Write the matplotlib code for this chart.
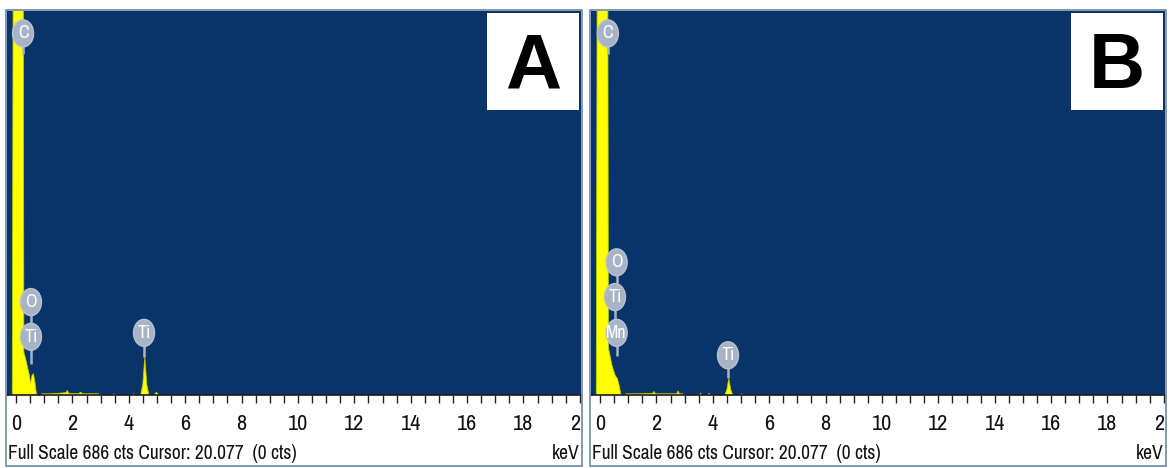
import matplotlib
matplotlib.use('Agg')
import matplotlib.pyplot as plt
from matplotlib import font_manager
from matplotlib.patches import Ellipse, Rectangle
from matplotlib.ticker import MultipleLocator

# Espectros EDS (energía en keV, cuentas)
energia_a = [-0.15, -0.12, 0.24, 0.26, 0.30, 0.35, 0.40, 0.45, 0.50, 0.55, 0.60, 0.65, 0.70, 0.75,
             0.85, 0.90, 1.2, 1.5, 1.75, 1.80, 1.85, 2.2, 2.27, 2.34, 2.6, 2.9, 3.0,
             3.40, 3.45, 3.50, 4.10, 4.15, 4.20, 4.40, 4.48, 4.55, 4.62, 4.70, 4.88, 4.96, 5.04, 5.1, 20.0]
cuentas_a = [0, 720, 720, 77, 70, 60, 48, 38, 22, 36, 39, 25, 5, 0,
             0, 3, 3, 4, 5, 9, 4, 3, 6, 3, 3, 3, 0,
             0, 3, 0, 0, 3, 0, 0, 20, 68, 20, 0, 0, 6, 0, 0, 0]

energia_b = [-0.15, -0.12, 0.26, 0.28, 0.35, 0.40, 0.46, 0.52, 0.60, 0.66, 0.71, 0.75,
             0.85, 0.90, 1.4, 1.85, 1.90, 1.95, 2.4, 2.7, 2.75, 2.80, 2.9, 3.0,
             3.5, 3.55, 3.6, 3.8, 3.85, 3.9, 4.40, 4.48, 4.55, 4.62, 4.70, 4.95, 5.0, 5.05, 20.0]
cuentas_b = [0, 720, 720, 85, 68, 55, 45, 36, 30, 18, 5, 0,
             0, 3, 3, 4, 7, 3, 3, 3, 8, 3, 3, 0,
             0, 4, 0, 0, 4, 0, 0, 10, 30, 10, 0, 0, 3, 0, 0]

# Etiquetas de elementos: (símbolo, energía del marcador, altura del marcador, final de la línea)
picos_a = [('C', 0.25, 646, 610), ('O', 0.53, 166, 100), ('Ti', 0.53, 104, 55), ('Ti', 4.54, 111, 68)]
picos_b = [('C', 0.28, 646, 610), ('O', 0.59, 237, 170), ('Ti', 0.53, 175, 110),
           ('Mn', 0.59, 111, 70), ('Ti', 4.54, 71, 30)]

paneles = ['A', 'B']
escala_total = 686
texto_pie = 'Full Scale 686 cts Cursor: 20.077  (0 cts)'

FONDO = '#08346a'
AMARILLO = '#ffff00'
GRIS = '#a9b3c6'

# buscar una fuente estrecha instalada; si no hay, Liberation Sans
fuente = {'family': ['Liberation Sans', 'DejaVu Sans'], 'stretch': 'normal'}
tam = 12
for f in font_manager.fontManager.ttflist:
    if 'Narrow' in f.name or 'Condensed' in f.name:
        fuente = {'family': [f.name, 'DejaVu Sans'], 'stretch': f.stretch}
        tam = 14
        break
else:
    for f in font_manager.fontManager.ttflist:
        if f.stretch in ('condensed', 'semi-condensed') and f.style == 'normal':
            fuente = {'family': [f.name, 'DejaVu Sans'], 'stretch': f.stretch}
            tam = 14
            break

W, H = 1170, 468
fig = plt.figure(figsize=(W / 100, H / 100), dpi=100)


def px(x0, y0, x1, y1):
    # rectángulo en píxeles (origen arriba a la izquierda) -> fracción de figura
    return [x0 / W, 1 - y1 / H, (x1 - x0) / W, (y1 - y0) / H]


datos = [(energia_a, cuentas_a, picos_a), (energia_b, cuentas_b, picos_b)]
for k, (energia, cuentas, picos) in enumerate(datos):
    dx = 584 * k
    xmin, xmax = -0.32, 20.04

    ax = fig.add_axes(px(7 + dx, 11, 581 + dx, 395))
    ax.set_facecolor(FONDO)
    ax.set_xlim(xmin, xmax)
    ax.set_ylim(0, escala_total)
    ax.fill_between(energia, cuentas, 0, color=AMARILLO, edgecolor='#c8c800',
                    linewidth=0.6, zorder=2)
    ax.set_xticks([])
    ax.set_yticks([])
    for s in ax.spines.values():
        s.set_visible(False)

    # tamaño del marcador en unidades de datos (21 x 27 px)
    ew = 21 / 574 * (xmax - xmin)
    eh = 27 / 384 * escala_total
    for simbolo, e, y, y_fin in picos:
        ax.plot([e, e], [y_fin, y], color=GRIS, linewidth=1.8, zorder=3, solid_capstyle='butt')
    for simbolo, e, y, y_fin in picos:
        ax.add_patch(Ellipse((e, y), ew, eh, facecolor=GRIS, edgecolor='#b9c1d1',
                             linewidth=1.0, zorder=4))
        ax.text(e, y, simbolo, ha='center', va='center', color='white', fontsize=tam - 1,
                fontfamily=fuente['family'], fontstretch=fuente['stretch'], zorder=5)

    # escala de energía
    ax2 = fig.add_axes(px(7 + dx, 395, 581 + dx, 465))
    ax2.set_facecolor('white')
    ax2.set_xlim(xmin, xmax)
    ax2.set_ylim(0, 1)
    ax2.set_yticks([])
    ax2.xaxis.set_major_locator(MultipleLocator(0.5))
    ax2.tick_params(axis='x', which='both', top=True, bottom=False, direction='in',
                    length=6, width=1.0, color='#222222', labelbottom=False)
    for nombre, s in ax2.spines.items():
        s.set_visible(nombre == 'top')
    ax2.spines['top'].set_color('#1a1a1a')
    ax2.spines['top'].set_linewidth(1.2)
    for v in range(0, 21, 2):
        ax2.text(v, 1 - 29 / 70, str(v), ha='center', va='center', fontsize=tam + 2,
                 fontfamily=fuente['family'], fontstretch=fuente['stretch'],
                 color='#111111', clip_on=True)
    ax2.text(0.002, 0.03, texto_pie, transform=ax2.transAxes, ha='left', va='bottom',
             fontsize=tam, fontfamily=fuente['family'], fontstretch=fuente['stretch'],
             color='#111111')
    ax2.text(0.998, 0.03, 'keV', transform=ax2.transAxes, ha='right', va='bottom',
             fontsize=tam, fontfamily=fuente['family'], fontstretch=fuente['stretch'],
             color='#111111')

    # letra del panel sobre recuadro blanco
    fig.patches.append(Rectangle(((487 + dx) / W, 1 - 110 / H), 92 / W, 97 / H,
                                 transform=fig.transFigure, facecolor='white',
                                 edgecolor='none', zorder=5))
    fig.text((533 + dx) / W, 1 - 68 / H, paneles[k], ha='center', va='center',
             fontsize=56, fontweight='bold', family=['Liberation Sans', 'DejaVu Sans'],
             color='black', zorder=6)

    # marco exterior del panel
    fig.patches.append(Rectangle(((6 + dx) / W, 1 - 466 / H), 576 / W, 456 / H,
                                 transform=fig.transFigure, facecolor='none',
                                 edgecolor='#6d86a8', linewidth=1.2, zorder=10))

fig.savefig('out.png', dpi=100, facecolor='white')
